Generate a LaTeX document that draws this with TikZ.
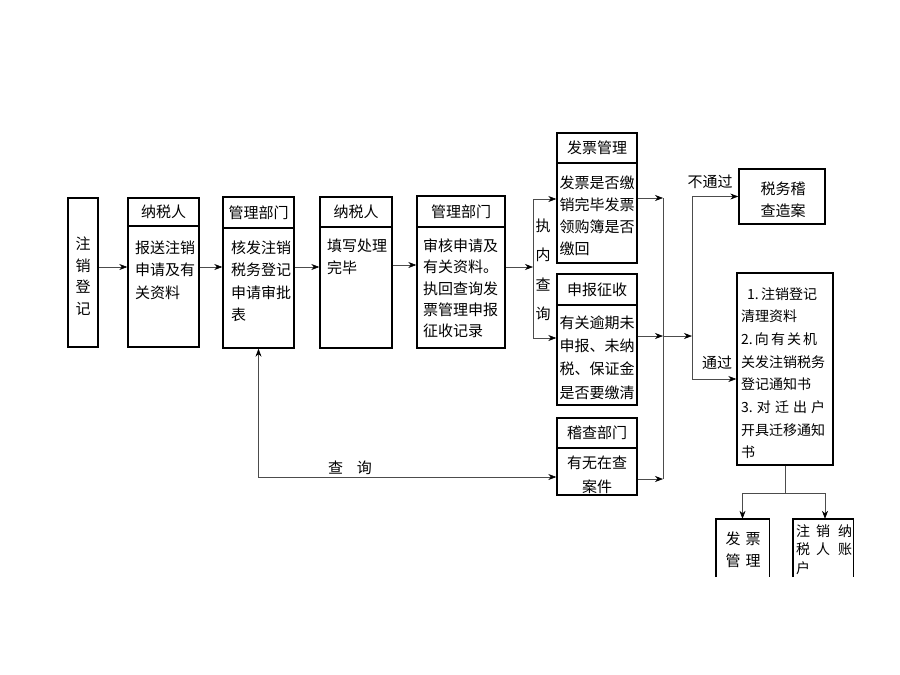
\documentclass[tikz,border=0pt]{standalone}
\usepackage{fontspec}
\setmainfont{Noto Sans CJK SC}
\usetikzlibrary{arrows.meta}
\begin{document}
\begin{tikzpicture}[x=1pt,y=-1pt,
  box/.style={draw=black, line width=1.4pt, inner sep=0pt},
  hline/.style={draw=black, line width=1.4pt},
  conn/.style={draw=black!70, line width=0.6pt},
  tip/.style={},
  arr/.style={conn, -{Stealth[length=8pt,width=6pt,color=black]}},
  txt/.style={inner sep=0pt, font=\fontsize{15}{22.5}\selectfont},
  body/.style={txt, anchor=north west, align=left},
  cbody/.style={txt, anchor=north, align=center}]
\fill[white] (0,0) rectangle (900,675);
\useasboundingbox (0,0) rectangle (900,675);
% boxes
\node[box, minimum width=30pt, minimum height=149pt] (b1) at (83,272.5) {};
\node[box, minimum width=71pt, minimum height=149pt] (b2) at (163.5,272.5) {};
\node[box, minimum width=71pt, minimum height=151pt] (b3) at (258.5,272.5) {};
\node[box, minimum width=72pt, minimum height=151pt] (b4) at (356,272.5) {};
\node[box, minimum width=88pt, minimum height=152pt] (b5) at (461,272) {};
\node[box, minimum width=80pt, minimum height=130pt] (b6) at (597,198) {};
\node[box, minimum width=80pt, minimum height=131pt] (b7) at (597,339.5) {};
\node[box, minimum width=80pt, minimum height=77pt] (b8) at (597,456.5) {};
\node[box, minimum width=86pt, minimum height=55pt] (b9) at (782,196.5) {};
\node[box, minimum width=96pt, minimum height=192pt] (b10) at (785,369) {};
\node[inner sep=0pt, minimum width=53pt, minimum height=58pt] (b11) at (742.5,548) {};
\node[inner sep=0pt, minimum width=60pt, minimum height=58pt] (b12) at (823,548) {};
\draw[hline] (b11.south west) -- (b11.north west) -- (b11.north east) -- (b11.south east);
\draw[hline] (b12.south west) -- (b12.north west) -- (b12.north east) -- (b12.south east);
% header lines
\draw[hline] (b2.west |- 0,226) -- (b2.east |- 0,226);
\draw[hline] (b3.west |- 0,228) -- (b3.east |- 0,228);
\draw[hline] (b4.west |- 0,227) -- (b4.east |- 0,227);
\draw[hline] (b5.west |- 0,227) -- (b5.east |- 0,227);
\draw[hline] (b6.west |- 0,163) -- (b6.east |- 0,163);
\draw[hline] (b7.west |- 0,305) -- (b7.east |- 0,305);
\draw[hline] (b8.west |- 0,448) -- (b8.east |- 0,448);
% headers
\node[txt] (h2) at (b2.center |- 0,212) {纳税人};
\node[txt] (h3) at (b3.center |- 0,212.5) {管理部门};
\node[txt] (h4) at (b4.center |- 0,212) {纳税人};
\node[txt] (h5) at (b5.center |- 0,211.5) {管理部门};
\node[txt] (h6) at (b6.center |- 0,148) {发票管理};
\node[txt] (h7) at (b7.center |- 0,289.5) {申报征收};
\node[txt] (h8) at (b8.center |- 0,433) {稽查部门};
% bodies
\node[txt, anchor=north, align=center, font=\fontsize{15}{21.7}\selectfont] (t1) at (83,236.5) {注\\销\\登\\记};
\node[body] (t2) at (135,240.5) {报送注销\\申请及有\\关资料};
\node[body] (t3) at (231,240.5) {核发注销\\税务登记\\申请审批\\表};
\node[body] (t4) at (327,238.5) {填写处理\\完毕};
\node[body, font=\fontsize{15}{21.3}\selectfont] (t5) at (423,238.5) {审核申请及\\有关资料。\\执回查询发\\票管理申报\\征收记录};
\node[body, font=\fontsize{15}{22}\selectfont] (t6) at (559.5,175.5) {发票是否缴\\销完毕发票\\领购簿是否\\缴回};
\node[body, font=\fontsize{15}{23.3}\selectfont] (t7) at (559.5,315.5) {有关逾期未\\申报、未纳\\税、保证金\\是否要缴清};
\node[cbody, font=\fontsize{15}{24}\selectfont] (t8) at (597,455.5) {有无在查\\案件};
\node[cbody, font=\fontsize{15}{22}\selectfont] (t9) at (783,181.5) {税务稽\\查造案};
\node[body, font=\fontsize{14}{22.7}\selectfont] (t10) at (741,287) {\hspace{6pt}1.\,注销登记\\清理资料\\2.\hfill 向\hfill 有\hfill 关\hfill 机\\关发注销税务\\登记通知书\\3.\hfill 对\hfill 迁\hfill 出\hfill 户\\开具迁移通知\\书};
\node[cbody] (t11) at (743,531.5) {发\hspace{5pt}票\\管\hspace{5pt}理};
\node[body, font=\fontsize{14}{18.5}\selectfont] (t12) at (796,524) {注\hspace{6pt}销\hspace{8pt}纳\\税\hspace{6pt}人\hspace{8pt}账\\户};
% vertical label
\node[txt, anchor=north, align=center, font=\fontsize{15}{29.5}\selectfont] (t13) at (543,218.5) {执\\内\\查\\询};
% labels
\node[txt] (l1) at (710,182) {不通过};
\node[txt] (l2) at (717,363) {通过};
\node[txt] (l3) at (350,468) {查\hspace{14pt}询};
% junction coordinates
\coordinate (j1) at (533,267);
\coordinate (j2) at (663,336);
\coordinate (j3) at (692,336);
\coordinate (j4) at (785,493);
\coordinate (qy) at (0,477);
% main flow
\draw[arr] (b1.east |- 0,267) -- (b2.west |- 0,267);
\draw[arr] (b2.east |- 0,267) -- (b3.west |- 0,267);
\draw[arr] (b3.east |- 0,267) -- (b4.west |- 0,267);
\draw[arr] (b4.east |- 0,265) -- (b5.west |- 0,265);
\draw[arr] (b5.east |- j1) -- (j1);
\draw[conn] (j1 |- 0,199) -- (j1 |- 0,338);
\draw[arr] (j1 |- 0,199) -- (b6.west |- 0,199);
\draw[arr] (j1 |- 0,338) -- (b7.west |- 0,338);
% collect
\draw[conn] (j2 |- 0,198) -- (j2 |- 0,479);
\draw[arr] (b6.east |- 0,198) -- (j2 |- 0,198);
\draw[arr] (b7.east |- j2) -- (j2);
\draw[arr] (b8.east |- 0,479) -- (j2 |- 0,479);
\draw[arr] (j2) -- (j3);
\draw[conn] (j3 |- b9.west) -- (j3 |- 0,379);
\draw[arr] (j3 |- b9.west) -- (b9.west);
\draw[arr] (j3 |- 0,379) -- (b10.west |- 0,379);
% bottom split
\draw[conn] (b10.south) -- (j4);
\draw[conn] (j4 -| b11.north) -- (j4 -| 825,0);
\draw[arr] (j4 -| b11.north) -- (b11.north);
\draw[arr] (j4 -| 825,0) -- (b12.north -| 825,0);
% query
\draw[conn, {Stealth[length=8pt,width=6pt,color=black]}-{Stealth[length=8pt,width=6pt,color=black]}] (b3.south) |- (b8.west |- qy);
\end{tikzpicture}
\end{document}
